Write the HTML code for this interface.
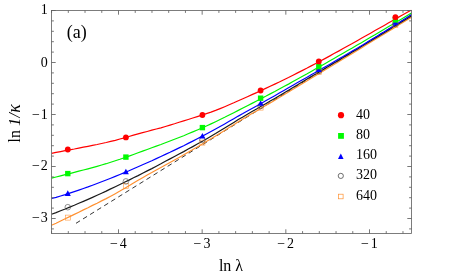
<!DOCTYPE html>
<html><head><meta charset="utf-8"><style>
html,body{margin:0;padding:0;background:#fff;}
svg{display:block;will-change:transform;font-family:"Liberation Serif",serif;}
text{fill:#000;}
</style></head><body>
<svg width="463" height="275" viewBox="0 0 463 275">
<rect width="463" height="275" fill="#fff"/>
<defs><clipPath id="c"><rect x="51.5" y="9.7" width="360.3" height="223.8"/></clipPath></defs>
<g clip-path="url(#c)">
<line x1="76.0" y1="223.3" x2="411.3" y2="14.9" stroke="#2a2a2a" stroke-width="0.95" stroke-dasharray="4.7 3.6"/>
<path d="M51.5 225.3 L56.1 223.2 L60.6 221.0 L65.2 218.8 L69.7 216.6 L74.3 214.4 L78.8 212.2 L83.4 209.9 L88.0 207.7 L92.5 205.4 L97.1 203.2 L101.6 200.9 L106.2 198.6 L110.7 196.2 L115.3 193.7 L119.9 191.1 L124.4 188.4 L129.0 185.7 L133.5 183.0 L138.1 180.3 L142.6 177.7 L147.2 175.1 L151.8 172.6 L156.3 170.0 L160.9 167.5 L165.4 165.0 L170.0 162.5 L174.5 160.0 L179.1 157.4 L183.7 154.8 L188.2 152.2 L192.8 149.6 L197.3 147.0 L201.9 144.3 L206.4 141.6 L211.0 138.8 L215.6 136.1 L220.1 133.2 L224.7 130.4 L229.2 127.5 L233.8 124.7 L238.3 121.8 L242.9 119.0 L247.4 116.3 L252.0 113.6 L256.6 110.9 L261.1 108.2 L265.7 105.5 L270.2 102.9 L274.8 100.2 L279.3 97.5 L283.9 94.8 L288.5 92.0 L293.0 89.3 L297.6 86.6 L302.1 83.8 L306.7 81.1 L311.2 78.3 L315.8 75.5 L320.4 72.8 L324.9 70.0 L329.5 67.3 L334.0 64.5 L338.6 61.7 L343.1 59.0 L347.7 56.2 L352.3 53.4 L356.8 50.7 L361.4 47.9 L365.9 45.1 L370.5 42.3 L375.0 39.6 L379.6 36.8 L384.2 34.0 L388.7 31.2 L393.3 28.4 L397.8 25.6 L402.4 22.8 L406.9 20.0 L411.5 17.2" fill="none" stroke="#ff9030" stroke-width="1.2"/>
<path d="M51.5 214.3 L56.1 212.6 L60.6 210.8 L65.2 209.0 L69.7 207.1 L74.3 205.3 L78.8 203.3 L83.4 201.4 L88.0 199.4 L92.5 197.4 L97.1 195.3 L101.6 193.2 L106.2 191.1 L110.7 188.9 L115.3 186.7 L119.9 184.5 L124.4 182.3 L129.0 180.1 L133.5 177.8 L138.1 175.6 L142.6 173.3 L147.2 170.9 L151.8 168.6 L156.3 166.2 L160.9 163.8 L165.4 161.3 L170.0 158.9 L174.5 156.5 L179.1 154.0 L183.7 151.6 L188.2 149.1 L192.8 146.6 L197.3 144.1 L201.9 141.5 L206.4 138.9 L211.0 136.3 L215.6 133.6 L220.1 130.8 L224.7 128.0 L229.2 125.2 L233.8 122.4 L238.3 119.6 L242.9 116.9 L247.4 114.2 L252.0 111.6 L256.6 108.9 L261.1 106.3 L265.7 103.7 L270.2 101.1 L274.8 98.4 L279.3 95.7 L283.9 93.0 L288.5 90.2 L293.0 87.5 L297.6 84.8 L302.1 82.0 L306.7 79.3 L311.2 76.6 L315.8 73.9 L320.4 71.2 L324.9 68.5 L329.5 65.8 L334.0 63.1 L338.6 60.4 L343.1 57.6 L347.7 54.9 L352.3 52.1 L356.8 49.4 L361.4 46.6 L365.9 43.8 L370.5 41.1 L375.0 38.3 L379.6 35.5 L384.2 32.7 L388.7 29.9 L393.3 27.1 L397.8 24.3 L402.4 21.5 L406.9 18.7 L411.5 15.9" fill="none" stroke="#1a1a1a" stroke-width="1.2"/>
<path d="M51.5 198.5 L56.1 197.3 L60.6 196.0 L65.2 194.6 L69.7 193.1 L74.3 191.6 L78.8 190.1 L83.4 188.5 L88.0 186.9 L92.5 185.2 L97.1 183.5 L101.6 181.8 L106.2 180.0 L110.7 178.2 L115.3 176.4 L119.9 174.5 L124.4 172.6 L129.0 170.7 L133.5 168.7 L138.1 166.7 L142.6 164.7 L147.2 162.7 L151.8 160.7 L156.3 158.6 L160.9 156.5 L165.4 154.4 L170.0 152.3 L174.5 150.1 L179.1 147.9 L183.7 145.7 L188.2 143.4 L192.8 141.1 L197.3 138.8 L201.9 136.4 L206.4 134.0 L211.0 131.5 L215.6 129.0 L220.1 126.5 L224.7 123.9 L229.2 121.3 L233.8 118.7 L238.3 116.1 L242.9 113.6 L247.4 111.0 L252.0 108.5 L256.6 105.9 L261.1 103.4 L265.7 100.8 L270.2 98.3 L274.8 95.7 L279.3 93.1 L283.9 90.5 L288.5 87.8 L293.0 85.2 L297.6 82.6 L302.1 80.0 L306.7 77.4 L311.2 74.8 L315.8 72.2 L320.4 69.6 L324.9 67.0 L329.5 64.4 L334.0 61.8 L338.6 59.1 L343.1 56.5 L347.7 53.8 L352.3 51.1 L356.8 48.4 L361.4 45.7 L365.9 42.9 L370.5 40.1 L375.0 37.4 L379.6 34.6 L384.2 31.8 L388.7 28.9 L393.3 26.1 L397.8 23.3 L402.4 20.4 L406.9 17.5 L411.5 14.6" fill="none" stroke="#0000ff" stroke-width="1.2"/>
<path d="M51.5 178.1 L56.1 177.0 L60.6 175.9 L65.2 174.7 L69.7 173.6 L74.3 172.4 L78.8 171.2 L83.4 170.0 L88.0 168.8 L92.5 167.6 L97.1 166.3 L101.6 165.0 L106.2 163.7 L110.7 162.3 L115.3 160.8 L119.9 159.3 L124.4 157.7 L129.0 156.1 L133.5 154.5 L138.1 152.8 L142.6 151.1 L147.2 149.5 L151.8 147.8 L156.3 146.1 L160.9 144.5 L165.4 142.8 L170.0 141.0 L174.5 139.3 L179.1 137.5 L183.7 135.7 L188.2 133.8 L192.8 131.9 L197.3 130.0 L201.9 128.0 L206.4 126.0 L211.0 123.9 L215.6 121.7 L220.1 119.5 L224.7 117.3 L229.2 115.0 L233.8 112.7 L238.3 110.4 L242.9 108.0 L247.4 105.7 L252.0 103.4 L256.6 101.0 L261.1 98.6 L265.7 96.3 L270.2 93.9 L274.8 91.5 L279.3 89.0 L283.9 86.5 L288.5 84.1 L293.0 81.6 L297.6 79.0 L302.1 76.5 L306.7 74.0 L311.2 71.4 L315.8 68.8 L320.4 66.3 L324.9 63.7 L329.5 61.1 L334.0 58.5 L338.6 55.8 L343.1 53.2 L347.7 50.6 L352.3 48.0 L356.8 45.3 L361.4 42.7 L365.9 40.0 L370.5 37.3 L375.0 34.7 L379.6 32.0 L384.2 29.3 L388.7 26.6 L393.3 23.9 L397.8 21.2 L402.4 18.5 L406.9 15.8 L411.5 13.1" fill="none" stroke="#00f200" stroke-width="1.2"/>
<path d="M51.5 153.3 L56.1 152.4 L60.6 151.6 L65.2 150.7 L69.7 149.8 L74.3 149.0 L78.8 148.1 L83.4 147.2 L88.0 146.3 L92.5 145.4 L97.1 144.5 L101.6 143.5 L106.2 142.5 L110.7 141.4 L115.3 140.3 L119.9 139.0 L124.4 137.8 L129.0 136.5 L133.5 135.2 L138.1 133.9 L142.6 132.7 L147.2 131.5 L151.8 130.2 L156.3 129.0 L160.9 127.8 L165.4 126.5 L170.0 125.1 L174.5 123.8 L179.1 122.3 L183.7 120.9 L188.2 119.5 L192.8 118.0 L197.3 116.6 L201.9 115.1 L206.4 113.6 L211.0 112.1 L215.6 110.4 L220.1 108.6 L224.7 106.7 L229.2 104.8 L233.8 102.8 L238.3 100.7 L242.9 98.7 L247.4 96.7 L252.0 94.6 L256.6 92.6 L261.1 90.5 L265.7 88.4 L270.2 86.3 L274.8 84.1 L279.3 82.0 L283.9 79.7 L288.5 77.5 L293.0 75.2 L297.6 72.9 L302.1 70.6 L306.7 68.3 L311.2 65.9 L315.8 63.5 L320.4 61.0 L324.9 58.6 L329.5 56.1 L334.0 53.6 L338.6 51.1 L343.1 48.6 L347.7 46.0 L352.3 43.5 L356.8 40.9 L361.4 38.3 L365.9 35.8 L370.5 33.2 L375.0 30.6 L379.6 28.0 L384.2 25.4 L388.7 22.8 L393.3 20.2 L397.8 17.6 L402.4 15.1 L406.9 12.5 L411.5 10.0" fill="none" stroke="#ff0000" stroke-width="1.2"/>
</g>
<rect x="65.3" y="215.1" width="5.0" height="5.0" fill="none" stroke="#ff9030" stroke-width="0.55"/>
<rect x="123.4" y="183.7" width="5.0" height="5.0" fill="none" stroke="#ff9030" stroke-width="0.55"/>
<rect x="199.9" y="140.1" width="5.0" height="5.0" fill="none" stroke="#ff9030" stroke-width="0.55"/>
<rect x="258.1" y="105.1" width="5.0" height="5.0" fill="none" stroke="#ff9030" stroke-width="0.55"/>
<rect x="316.3" y="69.7" width="5.0" height="5.0" fill="none" stroke="#ff9030" stroke-width="0.55"/>
<rect x="392.9" y="22.7" width="5.0" height="5.0" fill="none" stroke="#ff9030" stroke-width="0.55"/>
<circle cx="67.8" cy="207.2" r="2.8" fill="none" stroke="#444" stroke-width="0.6"/>
<circle cx="125.9" cy="181.4" r="2.8" fill="none" stroke="#444" stroke-width="0.6"/>
<circle cx="202.4" cy="139.9" r="2.8" fill="none" stroke="#444" stroke-width="0.6"/>
<circle cx="260.6" cy="106.0" r="2.8" fill="none" stroke="#444" stroke-width="0.6"/>
<circle cx="318.8" cy="71.0" r="2.8" fill="none" stroke="#444" stroke-width="0.6"/>
<circle cx="395.4" cy="24.0" r="2.8" fill="none" stroke="#444" stroke-width="0.6"/>
<path d="M67.8 190.3 L70.8 195.9 L64.8 195.9 Z" fill="#0000ff"/>
<path d="M125.9 168.7 L128.9 174.3 L122.9 174.3 Z" fill="#0000ff"/>
<path d="M202.4 133.0 L205.4 138.6 L199.4 138.6 Z" fill="#0000ff"/>
<path d="M260.6 100.2 L263.6 105.8 L257.6 105.8 Z" fill="#0000ff"/>
<path d="M318.8 66.5 L321.8 72.1 L315.8 72.1 Z" fill="#0000ff"/>
<path d="M395.4 19.2 L398.4 24.8 L392.4 24.8 Z" fill="#0000ff"/>
<rect x="65.1" y="170.9" width="5.4" height="5.4" fill="#00fa00"/>
<rect x="123.2" y="154.4" width="5.4" height="5.4" fill="#00fa00"/>
<rect x="199.7" y="124.9" width="5.4" height="5.4" fill="#00fa00"/>
<rect x="257.9" y="95.5" width="5.4" height="5.4" fill="#00fa00"/>
<rect x="316.1" y="63.9" width="5.4" height="5.4" fill="#00fa00"/>
<rect x="392.7" y="17.2" width="5.4" height="5.4" fill="#00fa00"/>
<circle cx="67.8" cy="149.5" r="2.9" fill="#ff0000"/>
<circle cx="125.9" cy="137.4" r="2.9" fill="#ff0000"/>
<circle cx="202.4" cy="115.0" r="2.9" fill="#ff0000"/>
<circle cx="260.6" cy="90.5" r="2.9" fill="#ff0000"/>
<circle cx="318.8" cy="61.4" r="2.9" fill="#ff0000"/>
<circle cx="395.4" cy="17.2" r="2.9" fill="#ff0000"/>
<rect x="51.50" y="10.50" width="360.00" height="223.00" fill="none" stroke="#606060" stroke-width="0.82"/>
<path d="M51.56 233.50 v-2.4 M51.56 10.50 v2.4" stroke="#606060" stroke-width="0.85" fill="none"/>
<path d="M68.30 233.50 v-2.4 M68.30 10.50 v2.4" stroke="#606060" stroke-width="0.85" fill="none"/>
<path d="M85.03 233.50 v-2.4 M85.03 10.50 v2.4" stroke="#606060" stroke-width="0.85" fill="none"/>
<path d="M101.77 233.50 v-2.4 M101.77 10.50 v2.4" stroke="#606060" stroke-width="0.85" fill="none"/>
<path d="M118.50 233.50 v-4.2 M118.50 10.50 v4.2" stroke="#606060" stroke-width="0.85" fill="none"/>
<path d="M135.23 233.50 v-2.4 M135.23 10.50 v2.4" stroke="#606060" stroke-width="0.85" fill="none"/>
<path d="M151.97 233.50 v-2.4 M151.97 10.50 v2.4" stroke="#606060" stroke-width="0.85" fill="none"/>
<path d="M168.70 233.50 v-2.4 M168.70 10.50 v2.4" stroke="#606060" stroke-width="0.85" fill="none"/>
<path d="M185.44 233.50 v-2.4 M185.44 10.50 v2.4" stroke="#606060" stroke-width="0.85" fill="none"/>
<path d="M202.17 233.50 v-4.2 M202.17 10.50 v4.2" stroke="#606060" stroke-width="0.85" fill="none"/>
<path d="M218.90 233.50 v-2.4 M218.90 10.50 v2.4" stroke="#606060" stroke-width="0.85" fill="none"/>
<path d="M235.64 233.50 v-2.4 M235.64 10.50 v2.4" stroke="#606060" stroke-width="0.85" fill="none"/>
<path d="M252.37 233.50 v-2.4 M252.37 10.50 v2.4" stroke="#606060" stroke-width="0.85" fill="none"/>
<path d="M269.11 233.50 v-2.4 M269.11 10.50 v2.4" stroke="#606060" stroke-width="0.85" fill="none"/>
<path d="M285.84 233.50 v-4.2 M285.84 10.50 v4.2" stroke="#606060" stroke-width="0.85" fill="none"/>
<path d="M302.57 233.50 v-2.4 M302.57 10.50 v2.4" stroke="#606060" stroke-width="0.85" fill="none"/>
<path d="M319.31 233.50 v-2.4 M319.31 10.50 v2.4" stroke="#606060" stroke-width="0.85" fill="none"/>
<path d="M336.04 233.50 v-2.4 M336.04 10.50 v2.4" stroke="#606060" stroke-width="0.85" fill="none"/>
<path d="M352.78 233.50 v-2.4 M352.78 10.50 v2.4" stroke="#606060" stroke-width="0.85" fill="none"/>
<path d="M369.51 233.50 v-4.2 M369.51 10.50 v4.2" stroke="#606060" stroke-width="0.85" fill="none"/>
<path d="M386.24 233.50 v-2.4 M386.24 10.50 v2.4" stroke="#606060" stroke-width="0.85" fill="none"/>
<path d="M402.98 233.50 v-2.4 M402.98 10.50 v2.4" stroke="#606060" stroke-width="0.85" fill="none"/>
<path d="M51.50 228.90 h2.4 M411.50 228.90 h-2.4" stroke="#606060" stroke-width="0.85" fill="none"/>
<path d="M51.50 218.50 h4.2 M411.50 218.50 h-4.2" stroke="#606060" stroke-width="0.85" fill="none"/>
<path d="M51.50 208.10 h2.4 M411.50 208.10 h-2.4" stroke="#606060" stroke-width="0.85" fill="none"/>
<path d="M51.50 197.70 h2.4 M411.50 197.70 h-2.4" stroke="#606060" stroke-width="0.85" fill="none"/>
<path d="M51.50 187.30 h2.4 M411.50 187.30 h-2.4" stroke="#606060" stroke-width="0.85" fill="none"/>
<path d="M51.50 176.90 h2.4 M411.50 176.90 h-2.4" stroke="#606060" stroke-width="0.85" fill="none"/>
<path d="M51.50 166.50 h4.2 M411.50 166.50 h-4.2" stroke="#606060" stroke-width="0.85" fill="none"/>
<path d="M51.50 156.10 h2.4 M411.50 156.10 h-2.4" stroke="#606060" stroke-width="0.85" fill="none"/>
<path d="M51.50 145.70 h2.4 M411.50 145.70 h-2.4" stroke="#606060" stroke-width="0.85" fill="none"/>
<path d="M51.50 135.30 h2.4 M411.50 135.30 h-2.4" stroke="#606060" stroke-width="0.85" fill="none"/>
<path d="M51.50 124.90 h2.4 M411.50 124.90 h-2.4" stroke="#606060" stroke-width="0.85" fill="none"/>
<path d="M51.50 114.50 h4.2 M411.50 114.50 h-4.2" stroke="#606060" stroke-width="0.85" fill="none"/>
<path d="M51.50 104.10 h2.4 M411.50 104.10 h-2.4" stroke="#606060" stroke-width="0.85" fill="none"/>
<path d="M51.50 93.70 h2.4 M411.50 93.70 h-2.4" stroke="#606060" stroke-width="0.85" fill="none"/>
<path d="M51.50 83.30 h2.4 M411.50 83.30 h-2.4" stroke="#606060" stroke-width="0.85" fill="none"/>
<path d="M51.50 72.90 h2.4 M411.50 72.90 h-2.4" stroke="#606060" stroke-width="0.85" fill="none"/>
<path d="M51.50 62.50 h4.2 M411.50 62.50 h-4.2" stroke="#606060" stroke-width="0.85" fill="none"/>
<path d="M51.50 52.10 h2.4 M411.50 52.10 h-2.4" stroke="#606060" stroke-width="0.85" fill="none"/>
<path d="M51.50 41.70 h2.4 M411.50 41.70 h-2.4" stroke="#606060" stroke-width="0.85" fill="none"/>
<path d="M51.50 31.30 h2.4 M411.50 31.30 h-2.4" stroke="#606060" stroke-width="0.85" fill="none"/>
<path d="M51.50 20.90 h2.4 M411.50 20.90 h-2.4" stroke="#606060" stroke-width="0.85" fill="none"/>
<path d="M51.50 10.50 h4.2 M411.50 10.50 h-4.2" stroke="#606060" stroke-width="0.85" fill="none"/>
<text x="118.3" y="247.6" text-anchor="middle" font-size="14"><tspan letter-spacing="1.9">−</tspan>4</text>
<text x="202.0" y="247.6" text-anchor="middle" font-size="14"><tspan letter-spacing="1.9">−</tspan>3</text>
<text x="285.6" y="247.6" text-anchor="middle" font-size="14"><tspan letter-spacing="1.9">−</tspan>2</text>
<text x="369.3" y="247.6" text-anchor="middle" font-size="14"><tspan letter-spacing="1.9">−</tspan>1</text>
<text x="47.8" y="14.4" text-anchor="end" font-size="14">1</text>
<text x="47.8" y="66.5" text-anchor="end" font-size="14">0</text>
<text x="47.8" y="118.5" text-anchor="end" font-size="14"><tspan letter-spacing="1">−</tspan>1</text>
<text x="47.8" y="170.4" text-anchor="end" font-size="14"><tspan letter-spacing="1">−</tspan>2</text>
<text x="47.8" y="222.4" text-anchor="end" font-size="14"><tspan letter-spacing="1">−</tspan>3</text>
<text x="231" y="270.9" text-anchor="middle" font-size="16">ln λ</text>
<text transform="translate(20.2 123) rotate(-90)" text-anchor="middle" font-size="16">ln <tspan font-style="italic" letter-spacing="0.4">1/<tspan font-size="18">κ</tspan></tspan></text>
<text x="66.7" y="37.9" font-size="18">(a)</text>
<text x="356" y="118.5" font-size="14">40</text>
<text x="356" y="139.1" font-size="14">80</text>
<text x="356" y="159.3" font-size="14">160</text>
<text x="356" y="179.3" font-size="14">320</text>
<text x="356" y="199.8" font-size="14">640</text>
<circle cx="341.0" cy="115.2" r="3.1" fill="#ff0000"/>
<rect x="338.1" y="133.0" width="5.8" height="5.8" fill="#00fa00"/>
<path d="M340.8 153.6 L343.6 159.0 L338.0 159.0 Z" fill="#0000ff"/>
<circle cx="340.8" cy="175.9" r="2.6" fill="none" stroke="#333" stroke-width="0.7"/>
<rect x="338.5" y="194.2" width="4.6" height="4.6" fill="none" stroke="#ff9030" stroke-width="0.7"/>
</svg>
</body></html>
